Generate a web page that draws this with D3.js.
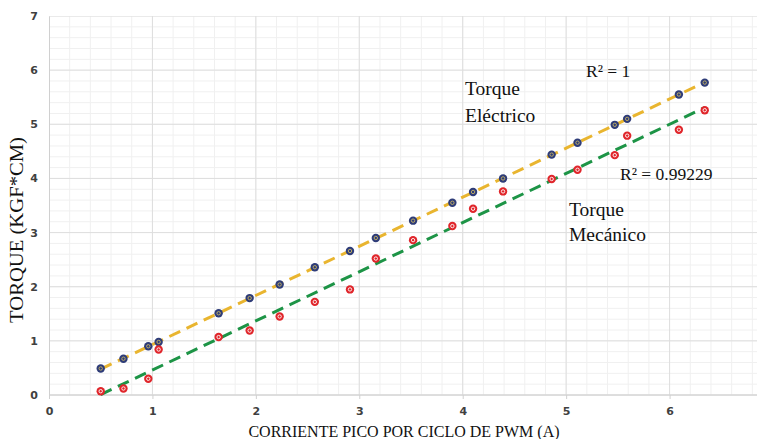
<!DOCTYPE html>
<html>
<head>
<meta charset="utf-8">
<script src="https://cdn.jsdelivr.net/npm/d3@7"></script>
<style>
  body { margin: 0; background: #fff; }
  svg { display: block; }
</style>
</head>
<body>
<div id="chart"></div>
<script>
// Data
const corriente = [0.5, 0.72, 0.96, 1.06, 1.64, 1.94, 2.23, 2.57, 2.91, 3.16, 3.52, 3.9, 4.1, 4.39, 4.86, 5.11, 5.47, 5.59, 6.09, 6.34];
const torqueElectrico = [0.49, 0.67, 0.9, 0.98, 1.51, 1.79, 2.04, 2.36, 2.66, 2.9, 3.22, 3.55, 3.75, 4.0, 4.44, 4.66, 4.99, 5.1, 5.55, 5.77];
const torqueMecanico = [0.07, 0.12, 0.3, 0.84, 1.07, 1.19, 1.45, 1.72, 1.95, 2.52, 2.86, 3.12, 3.44, 3.76, 3.99, 4.16, 4.43, 4.79, 4.9, 5.26];
const xTicks = [0, 1, 2, 3, 4, 5, 6];
const yTicks = [0, 1, 2, 3, 4, 5, 6, 7];

const width = 758, height = 439;
const margin = { top: 16, right: 1, bottom: 44, left: 49 };
const plotW = width - margin.left - margin.right;
const plotH = height - margin.top - margin.bottom;

const svg = d3.select("#chart").append("svg")
  .attr("width", width).attr("height", height);

const x = d3.scaleLinear().domain([0, 7]).range([0, 724]);
const y = d3.scaleLinear().domain([0, 7]).range([plotH, 0]);

const g = svg.append("g").attr("transform", `translate(${margin.left},${margin.top})`);

g.append("clipPath").attr("id", "clip")
  .append("rect").attr("width", plotW).attr("height", plotH + 1);

const grid = g.append("g").attr("clip-path", "url(#clip)");
const minor = d3.range(0, 7.01, 0.2);
grid.selectAll(".vmin").data(minor).enter().append("line")
  .attr("x1", d => x(d)).attr("x2", d => x(d))
  .attr("y1", 0).attr("y2", plotH)
  .style("stroke", "#f0f0f0").style("stroke-width", 1);
grid.selectAll(".hmin").data(minor).enter().append("line")
  .attr("x1", 0).attr("x2", plotW)
  .attr("y1", d => y(d)).attr("y2", d => y(d))
  .style("stroke", "#f0f0f0").style("stroke-width", 1);
grid.selectAll(".vmaj").data(xTicks.concat([7])).enter().append("line")
  .attr("x1", d => x(d)).attr("x2", d => x(d))
  .attr("y1", 0).attr("y2", plotH)
  .style("stroke", "#dedede").style("stroke-width", 1);
grid.selectAll(".hmaj").data(yTicks).enter().append("line")
  .attr("x1", 0).attr("x2", plotW)
  .attr("y1", d => y(d)).attr("y2", d => y(d))
  .style("stroke", "#dedede").style("stroke-width", 1);

// Axes
const xAxis = g.append("g").attr("transform", `translate(0,${plotH})`)
  .call(d3.axisBottom(x).tickValues(xTicks).tickSize(4).tickPadding(8).tickFormat(d3.format("d")));
const yAxis = g.append("g")
  .call(d3.axisLeft(y).tickValues(yTicks).tickSize(0).tickPadding(11).tickFormat(d3.format("d")));
[xAxis, yAxis].forEach(a => {
  a.select(".domain").style("stroke", "#d0d0d0");
  a.selectAll(".tick line").style("stroke", "#d0d0d0");
  a.selectAll("text").style("font-family", "'DejaVu Sans', sans-serif")
    .style("font-size", "11px").style("font-weight", "bold").style("fill", "#404040");
});
xAxis.select(".domain").attr("d", `M0,0H${plotW}`);

// Trend lines (least squares)
function fit(xs, ys) {
  const mx = d3.mean(xs), my = d3.mean(ys);
  const b = d3.sum(xs, (v, i) => (v - mx) * (ys[i] - my)) / d3.sum(xs, v => (v - mx) ** 2);
  return { b, a: my - b * mx };
}
const series = [
  { ys: torqueElectrico, line: "#e9b52f", fill: "#2e3c78", ring: "#c8b462" },
  { ys: torqueMecanico, line: "#1d9446", fill: "#e0262b", ring: "#ffffff" }
];
const x0 = d3.min(corriente), x1 = d3.max(corriente);
series.forEach(s => {
  const f = fit(corriente, s.ys);
  g.append("line")
    .attr("x1", x(x0)).attr("y1", y(f.a + f.b * x0))
    .attr("x2", x(x1)).attr("y2", y(f.a + f.b * x1))
    .style("stroke", s.line).style("stroke-width", 3)
    .style("stroke-dasharray", "12,7");
});
series.forEach(s => {
  const pts = g.append("g").selectAll("g").data(corriente).enter().append("g")
    .attr("transform", (d, i) => `translate(${x(d)},${y(s.ys[i])})`);
  pts.append("circle").attr("r", 4.2).style("fill", s.fill);
  pts.append("circle").attr("r", 1.7).style("fill", "none")
    .style("stroke", s.ring).style("stroke-width", 0.9);
});

// Annotations
const serif = "'Liberation Serif', 'Times New Roman', serif";
const notes = [
  { t: "Torque", px: 465, py: 95, size: 19.5 },
  { t: "Eléctrico", px: 465, py: 122, size: 19.5 },
  { t: "R² = 1", px: 586, py: 77, size: 17.5 },
  { t: "R² = 0.99229", px: 620, py: 180, size: 17.5 },
  { t: "Torque", px: 569, py: 216, size: 19.5 },
  { t: "Mecánico", px: 569, py: 241, size: 19.5 }
];
svg.selectAll(".note").data(notes).enter().append("text")
  .attr("x", d => d.px).attr("y", d => d.py)
  .text(d => d.t)
  .style("font-family", serif).style("font-size", d => d.size + "px").style("fill", "#111");

svg.append("text")
  .attr("x", margin.left + plotW / 2 + 1).attr("y", 437)
  .attr("text-anchor", "middle")
  .text("CORRIENTE PICO POR CICLO DE PWM (A)")
  .style("font-family", serif).style("font-size", "16px").style("fill", "#111");
svg.append("text")
  .attr("transform", `translate(23,230) rotate(-90)`)
  .attr("text-anchor", "middle")
  .attr("textLength", 186).attr("lengthAdjust", "spacingAndGlyphs")
  .text("TORQUE (KGF*CM)")
  .style("font-family", serif).style("font-size", "18px").style("fill", "#111");
</script>
</body>
</html>
